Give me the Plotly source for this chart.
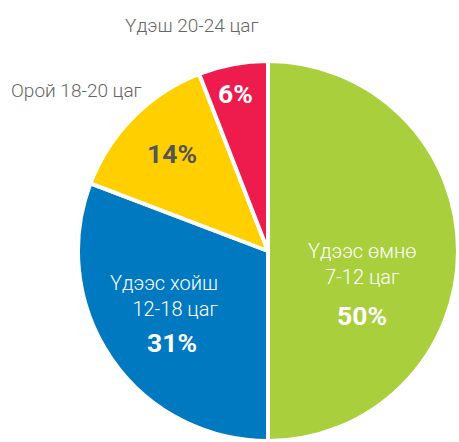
import plotly.graph_objects as go

# ---- data ----
labels = ["Үдээс өмнө<br>7-12 цаг", "Үдээс хойш<br>12-18 цаг", "Орой 18-20 цаг", "Үдэш 20-24 цаг"]
values = [50.0, 30.8, 13.3, 5.9]
pct_text = ["50%", "31%", "14%", "6%"]

# ---- styles / layout (paper coordinates for text placement) ----
colors = ["#A9CF3C", "#0079C1", "#FFCF00", "#EE1B4D"]
pct_colors = ["#FFFFFF", "#FFFFFF", "#555555", "#FFFFFF"]
label_colors = ["#FFFFFF", "#FFFFFF", "#666666", "#666666"]
label_sizes = [20, 20, 19, 19]
label_align = ["center", "right", "center", "center"]
label_pos = [(0.7887, 0.4027), (0.3577, 0.3314), (0.1667, 0.796), (0.417, 0.943)]
pct_pos = [(0.7876, 0.2855), (0.3758, 0.2262), (0.3758, 0.6531), (0.512, 0.789)]

fig = go.Figure(go.Pie(
    labels=labels,
    values=values,
    sort=False,
    direction="clockwise",
    rotation=0,
    marker=dict(colors=colors, line=dict(color="white", width=4)),
    textinfo="none",
    hoverinfo="label+percent",
    domain=dict(x=[78/459, 458/459], y=[1/442, 381/442]),
))

for i in range(len(labels)):
    lx, ly = label_pos[i]
    fig.add_annotation(
        x=lx, y=ly, xref="paper", yref="paper",
        xanchor="center", yanchor="middle", align=label_align[i],
        text=labels[i], showarrow=False,
        font=dict(family="Roboto", size=label_sizes[i], color=label_colors[i], weight=300),
    )
    px, py = pct_pos[i]
    fig.add_annotation(
        x=px, y=py, xref="paper", yref="paper",
        xanchor="center", yanchor="middle",
        text=pct_text[i], showarrow=False,
        font=dict(family="Roboto", size=26.5, color=pct_colors[i], weight="bold"),
    )

fig.update_layout(
    width=459, height=442,
    margin=dict(l=0, r=0, t=0, b=0),
    showlegend=False,
    paper_bgcolor="white",
    plot_bgcolor="white",
)

fig.write_html("out.html", config={"displayModeBar": False},
               post_script="document.body.style.margin='0';")
